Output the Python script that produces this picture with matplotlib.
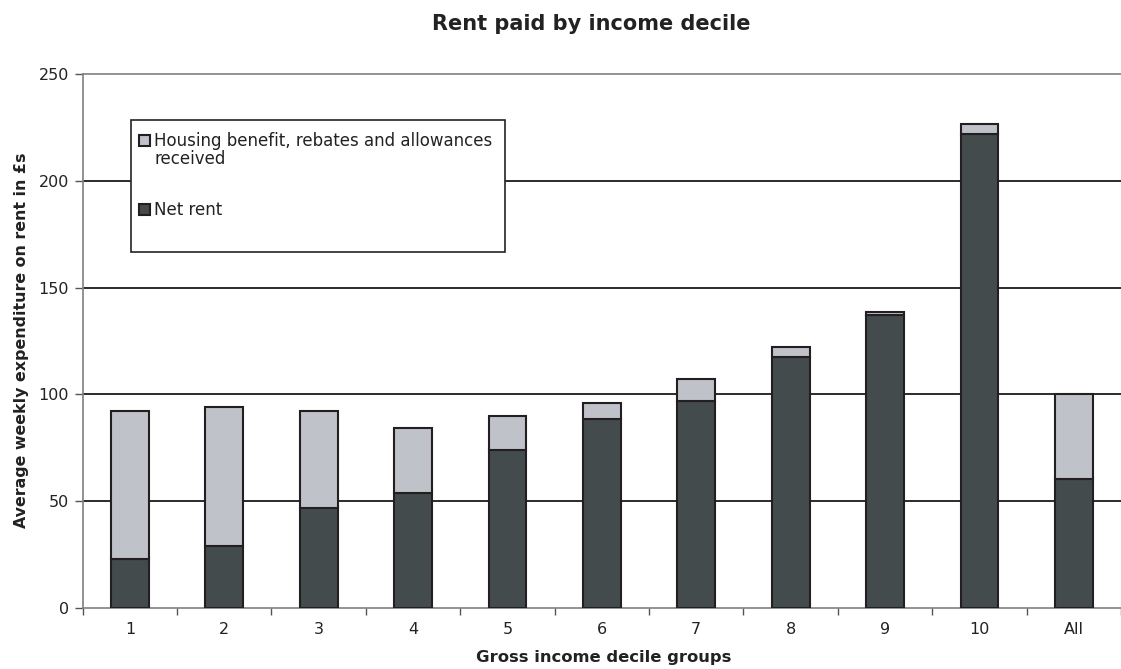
import matplotlib
matplotlib.use("Agg")
import matplotlib.pyplot as plt
from matplotlib.patches import Rectangle
import numpy as np

categories = ["1", "2", "3", "4", "5", "6", "7", "8", "9", "10", "All"]
net_rent = [23, 29, 47, 54, 74, 88.5, 97, 117.5, 137, 222, 60.5]
housing_benefit = [69, 65, 45, 30.5, 16, 7.5, 10, 4.5, 1.5, 4.5, 39.5]
yticks = [0, 50, 100, 150, 200, 250]
label_hb = "Housing benefit, rebates and allowances\nreceived"
label_net = "Net rent"

dark = "#434B4D"
light = "#C0C2C9"
edge = "#231F20"
W, H = 1121, 669

plt.rcParams["font.family"] = ["DejaVu Sans"]

fig = plt.figure(figsize=(W / 100, H / 100), dpi=100)
ax_left, ax_bottom, ax_top = 82.7, 608, 74
ax = fig.add_axes([ax_left / W, 1 - ax_bottom / H,
                   1 - ax_left / W, (ax_bottom - ax_top) / H])

x = np.arange(len(categories))
w = 0.40
ax.bar(x, net_rent, w, color=dark, edgecolor=edge, linewidth=1.5, zorder=3)
ax.bar(x, housing_benefit, w, bottom=net_rent, color=light, edgecolor=edge,
       linewidth=1.5, zorder=3)

ax.set_xlim(-0.5, 10.43)
ax.set_ylim(0, 250)
ax.set_yticks(yticks)
for yv in yticks[1:-1]:
    ax.axhline(yv, color="#1a1a1a", linewidth=1.3, zorder=1)

ax.set_xticks(x)
ax.set_xticklabels(categories)
ax.set_xticks(np.arange(-0.5, 11, 1), minor=True)
ax.tick_params(axis="x", which="major", length=0, pad=10, labelsize=11.5,
               labelcolor="#222222")
ax.tick_params(axis="x", which="minor", length=5, width=1, color="#555555")
ax.tick_params(axis="y", length=6, width=1, color="#555555", pad=4,
               labelsize=11.5, labelcolor="#222222")

for side in ["left", "bottom", "top"]:
    ax.spines[side].set_color("#808080")
    ax.spines[side].set_linewidth(1.2)
ax.spines["right"].set_visible(False)

fig.text(591 / W, 1 - 30 / H, "Rent paid by income decile", fontsize=15,
         fontweight="bold", ha="center", va="baseline", color="#222222")
fig.text(604 / W, 1 - 662 / H, "Gross income decile groups", fontsize=11.8,
         fontweight="bold", ha="center", va="baseline", color="#222222")
fig.text(22 / W, 1 - 340 / H, "Average weekly expenditure on rent in £s",
         fontsize=11.4, fontweight="bold", ha="center", va="center",
         rotation=90, color="#222222")

# Legend box drawn in figure pixel coordinates
def fx(px):
    return px / W

def fy(py):
    return 1 - py / H

fig.patches.append(Rectangle((fx(131), fy(252)), fx(505) - fx(131),
                             fy(120) - fy(252), transform=fig.transFigure,
                             facecolor="white", edgecolor="#222222",
                             linewidth=1.2, zorder=5))
fig.patches.append(Rectangle((fx(138.5), fy(146)), fx(11.5), fy(0) - fy(11.5),
                             transform=fig.transFigure, facecolor=light,
                             edgecolor=edge, linewidth=1.5, zorder=6))
fig.patches.append(Rectangle((fx(138.5), fy(215)), fx(11.5), fy(0) - fy(11.5),
                             transform=fig.transFigure, facecolor=dark,
                             edgecolor=edge, linewidth=1.5, zorder=6))
fig.text(fx(154), fy(146), label_hb.split("\n")[0], fontsize=12,
         va="baseline", ha="left", color="#222222", zorder=7)
fig.text(fx(154), fy(164), label_hb.split("\n")[1], fontsize=12,
         va="baseline", ha="left", color="#222222", zorder=7)
fig.text(fx(154), fy(215), label_net, fontsize=12, va="baseline", ha="left",
         color="#222222", zorder=7)

fig.savefig("out.png", dpi=100)
